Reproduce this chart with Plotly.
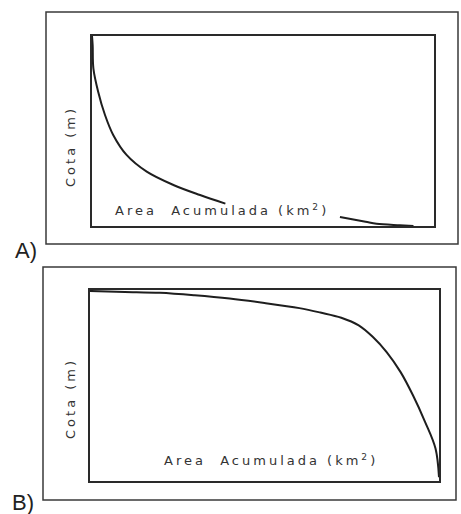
import plotly.graph_objects as go

# Hypsometric curves: elevation vs. accumulated area (normalised units)
# Panel A: concave curve (old, eroded basin)
area_a_upper = [0.0, 0.002, 0.004, 0.018, 0.038, 0.062, 0.101, 0.160, 0.238, 0.316, 0.39]
cota_a_upper = [1.0, 0.95, 0.83, 0.707, 0.584, 0.479, 0.374, 0.286, 0.216, 0.163, 0.118]
area_a_lower = [0.725, 0.80, 0.832, 0.90, 0.94]
cota_a_lower = [0.047, 0.022, 0.012, 0.004, 0.0]

# Panel B: convex curve (young basin)
area_b = [0.0, 0.1, 0.2, 0.3, 0.4, 0.5, 0.6, 0.66, 0.72, 0.77, 0.81, 0.85, 0.89, 0.925, 0.96, 0.99, 1.0]
cota_b = [0.995, 0.99, 0.985, 0.972, 0.955, 0.932, 0.905, 0.882, 0.855, 0.815, 0.755, 0.675, 0.57, 0.45, 0.31, 0.17, 0.02]

panel_labels = ["A)", "B)"]
x_label = "Area&nbsp;&nbsp;Acumulada (km<sup>2</sup>)"
y_label = "Cota (m)"

W, H = 461, 514


def px(x):
    return x / W


def py(y):
    return 1 - y / H


INK = "#1e1e1e"
BOX = "#2a2a2a"

fig = go.Figure()

# curve A is interrupted where the axis title sits
fig.add_trace(go.Scatter(
    x=area_a_upper + [None] + area_a_lower,
    y=cota_a_upper + [None] + cota_a_lower,
    mode="lines", line=dict(color=INK, width=2, shape="spline", smoothing=1.0),
    xaxis="x", yaxis="y", showlegend=False, hoverinfo="skip",
))
fig.add_trace(go.Scatter(
    x=area_b, y=cota_b,
    mode="lines", line=dict(color=INK, width=2, shape="spline", smoothing=1.0),
    xaxis="x2", yaxis="y2", showlegend=False, hoverinfo="skip",
))

axis_common = dict(range=[0, 1], showgrid=False, zeroline=False, showticklabels=False,
                   ticks="", showline=True, mirror=True, linecolor=BOX, linewidth=2,
                   fixedrange=True)

fig.update_layout(
    width=W, height=H,
    margin=dict(l=0, r=0, t=0, b=0),
    paper_bgcolor="white", plot_bgcolor="white",
    xaxis=dict(domain=[px(92), px(434)], anchor="y", **axis_common),
    yaxis=dict(domain=[py(226), py(36)], anchor="x", **axis_common),
    xaxis2=dict(domain=[px(90), px(439)], anchor="y2", **axis_common),
    yaxis2=dict(domain=[py(481), py(290)], anchor="x2", **axis_common),
)

# outer frames around each panel
for (x0, y0, x1, y1) in [(46, 12, 458, 244), (43, 267, 456, 500)]:
    fig.add_shape(type="rect", xref="paper", yref="paper",
                  x0=px(x0), x1=px(x1), y0=py(y1), y1=py(y0),
                  line=dict(color="#3a3a3a", width=1.5), fillcolor="rgba(0,0,0,0)")

text_font = dict(family="DejaVu Sans", size=13, color="#333333")
spaced = '<span style="letter-spacing:3px">{}</span>'

# axis titles
for (cx, cy) in [(113, 210), (162, 460)]:
    fig.add_annotation(xref="paper", yref="paper", x=px(cx), y=py(cy),
                       xanchor="left", yanchor="middle", showarrow=False,
                       text=spaced.format(x_label), font=text_font)
for (cx, cy) in [(70, 147), (70, 399)]:
    fig.add_annotation(xref="paper", yref="paper", x=px(cx), y=py(cy),
                       xanchor="center", yanchor="middle", showarrow=False,
                       textangle=-90, text=spaced.format(y_label), font=text_font)

# panel letters
for label, (cx, cy) in zip(panel_labels, [(13, 250), (10, 502)]):
    fig.add_annotation(xref="paper", yref="paper", x=px(cx), y=py(cy),
                       xanchor="left", yanchor="middle", showarrow=False,
                       text=label, font=dict(family="Liberation Sans", size=22, color="#222222"))

fig.write_html("out.html")
